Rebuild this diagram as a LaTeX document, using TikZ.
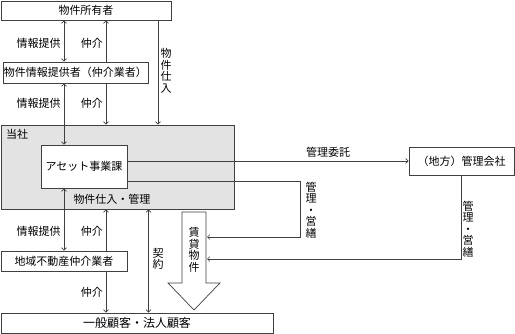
\documentclass[tikz,border=0pt]{standalone}
\usepackage{fontspec}
\setmainfont{Noto Sans CJK JP}
\usetikzlibrary{arrows.meta}
\definecolor{linec}{gray}{0.25}
\definecolor{boxgray}{gray}{0.89}
\begin{document}
\begin{tikzpicture}[x=1pt,y=-1pt,
  box/.style={draw=linec, line width=0.8pt, fill=white, inner sep=0pt, font=\fontsize{11}{12}\selectfont},
  conn/.style={draw=linec, line width=0.7pt},
  lab/.style={font=\fontsize{11}{12}\selectfont, inner sep=0pt},
  vlab/.style={inner sep=0pt, align=center, font=\fontsize{11}{11.5}\selectfont},
  >={Straight Barb[length=2.5pt,width=5pt]}]
\useasboundingbox (0,0) rectangle (515,334);
% column / row helpers
\coordinate (cA) at (64,0);
\coordinate (cB) at (106,0);
\coordinate (cC) at (158,0);
\coordinate (cD) at (148.5,0);
\coordinate (rA) at (0,161);
\coordinate (rB) at (0,181);
% boxes
\node[box, fill=boxgray, minimum width=233pt, minimum height=84pt] (tosha) at (117.5,167) {};
\node[lab, anchor=west] (toshalab) at (6,134) {当社};
\node[box, minimum width=170pt, minimum height=19pt] (owner) at (86,10.5) {物件所有者};
\node[box, minimum width=145pt, minimum height=21pt] (info) at (75.5,72.5) {物件情報提供者（仲介業者）};
\node[box, minimum width=86pt, minimum height=43pt] (asset) at (84,166.5) {アセット事業課};
\node[lab] (shiire) at (112,199) {物件仕入・管理};
\node[box, minimum width=105pt, minimum height=28pt] (kanri) at (461.5,161) {（地方）管理会社};
\node[box, minimum width=126pt, minimum height=20pt] (chiiki) at (64,261) {地域不動産仲介業者};
\node[box, minimum width=272pt, minimum height=20pt, font=\fontsize{12}{13}\selectfont] (kokyaku) at (137,323) {一般顧客・法人顧客};
% big arrow
\draw[conn, fill=white] (182,212) -- (206,212) -- (206,283) -- (220,283) -- (194,310) -- (168,283) -- (182,283) -- cycle;
\node[vlab] (chintai) at (194,250) {賃\\貸\\物\\件};
\coordinate (shaftA) at (207,237);
\coordinate (shaftB) at (207,259);
% connectors
\draw[conn,<->] (owner.south -| cA) -- (info.north -| cA);
\draw[conn,<-] (owner.south -| cB) -- (info.north -| cB);
\draw[conn,->] (info.south -| cB) -- (tosha.north -| cB);
\draw[conn,->] (owner.south -| cC) -- (tosha.north -| cC);
\draw[conn,<->] (info.south -| cA) -- (asset.north -| cA);
\draw[conn,->] (asset.east |- rA) -- (kanri.west |- rA);
\draw[conn,->] (asset.east |- rB) -- (300,181) -- (300,237) -- (shaftA);
\draw[conn,->] (kanri.south) -- (kanri.south |- shaftB) -- (shaftB);
\draw[conn,<->] (asset.south -| cA) -- (chiiki.north -| cA);
\draw[conn,<-] (tosha.south -| cB) -- (chiiki.north -| cB);
\draw[conn,->] (chiiki.south -| cB) -- (kokyaku.north -| cB);
\draw[conn,<->] (tosha.south -| cD) -- (kokyaku.north -| cD);
% labels
\node[lab] (j1) at (38.5,43) {情報提供};
\node[lab] (j2) at (38.5,103) {情報提供};
\node[lab] (j3) at (38.5,231) {情報提供};
\node[lab] (n1) at (92,43) {仲介};
\node[lab] (n2) at (92,103) {仲介};
\node[lab] (n3) at (92,231) {仲介};
\node[lab] (n4) at (92,292) {仲介};
\node[vlab] (bs) at (166,71) {物\\件\\仕\\入};
\node[vlab] (kei) at (158,259) {契\\約};
\node[lab] (itaku) at (328,152) {管理委託};
\node[vlab] (ei1) at (311,210) {管\\理\\・\\営\\繕};
\node[vlab] (ei2) at (468,229) {管\\理\\・\\営\\繕};
\end{tikzpicture}
\end{document}
